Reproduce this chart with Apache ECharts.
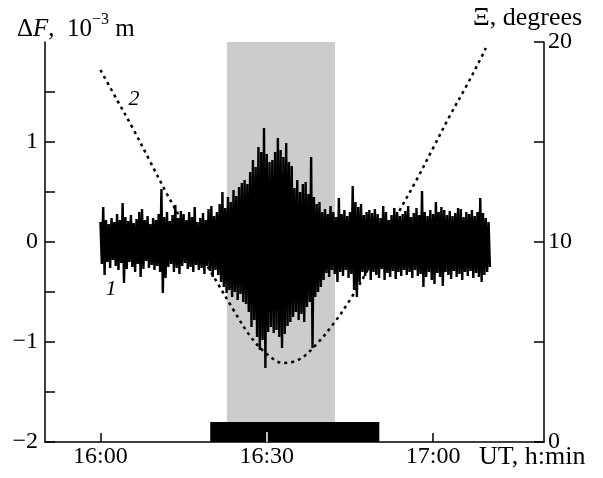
<!DOCTYPE html>
<html>
<head>
<meta charset="utf-8">
<script src="https://cdn.jsdelivr.net/npm/echarts@6/dist/echarts.min.js"></script>
<style>
html, body { margin: 0; padding: 0; background: #fff; }
#chart { width: 603px; height: 478px; }
</style>
</head>
<body>
<div id="chart"></div>
<script>
// curve 1: dF, 10^-3 m -- upper / lower swing, every 0.5 min from 16:00
var sigHigh = [
  0.20, 0.35, 0.22, 0.18, 0.24, 0.20, 0.28, 0.22, 0.39, 0.25,
  0.21, 0.27, 0.19, 0.23, 0.30, 0.33, 0.22, 0.26, 0.18, 0.24,
  0.22, 0.28, 0.53, 0.25, 0.30, 0.21, 0.27, 0.37, 0.24, 0.31,
  0.28, 0.22, 0.30, 0.25, 0.35, 0.20, 0.24, 0.29, 0.22, 0.33,
  0.36, 0.26, 0.30, 0.38, 0.50, 0.34, 0.45, 0.40, 0.52, 0.46,
  0.55, 0.59, 0.62, 0.58, 0.70, 0.82, 0.75, 0.95, 0.90, 1.14,
  0.88, 0.80, 0.82, 0.90, 1.04, 0.92, 0.85, 0.99, 0.80, 0.76,
  0.54, 0.62, 0.50, 0.58, 0.60, 0.48, 0.85, 0.45, 0.38, 0.40,
  0.30, 0.33, 0.28, 0.36, 0.30, 0.25, 0.44, 0.28, 0.32, 0.26,
  0.30, 0.56, 0.40, 0.35, 0.38, 0.27, 0.30, 0.32, 0.29, 0.33,
  0.28, 0.24, 0.36, 0.30, 0.22, 0.27, 0.34, 0.30, 0.26, 0.28,
  0.31, 0.36, 0.25, 0.29, 0.34, 0.27, 0.51, 0.30, 0.26, 0.32,
  0.28, 0.40, 0.30, 0.35, 0.32, 0.27, 0.31, 0.26, 0.29, 0.34,
  0.33, 0.25, 0.30, 0.28, 0.32, 0.26, 0.30, 0.44, 0.29, 0.24,
  0.20
];
var sigLow = [
  -0.22, -0.33, -0.20, -0.26, -0.18, -0.24, -0.28, -0.21, -0.41, -0.27,
  -0.20, -0.25, -0.30, -0.22, -0.35, -0.27, -0.19, -0.26, -0.23, -0.28,
  -0.24, -0.30, -0.51, -0.36, -0.25, -0.22, -0.30, -0.26, -0.32, -0.24,
  -0.21, -0.27, -0.25, -0.30, -0.23, -0.28, -0.26, -0.32, -0.24, -0.29,
  -0.35, -0.28, -0.33, -0.40, -0.45, -0.51, -0.48, -0.55, -0.50, -0.58,
  -0.52, -0.60, -0.62, -0.70, -0.85, -0.78, -0.95, -1.08, -0.98, -1.26,
  -0.90, -0.85, -0.91, -0.88, -0.95, -1.06, -0.92, -0.84, -0.80, -0.75,
  -0.70, -0.78, -0.72, -0.80, -0.65, -0.60, -1.06, -0.55, -0.50, -0.45,
  -0.38, -0.31, -0.35, -0.28, -0.32, -0.40, -0.30, -0.34, -0.28, -0.36,
  -0.32, -0.48, -0.55, -0.40, -0.30, -0.34, -0.28, -0.38, -0.30, -0.33,
  -0.36, -0.27, -0.38, -0.31, -0.35, -0.29, -0.37, -0.30, -0.34, -0.28,
  -0.33, -0.30, -0.36, -0.28, -0.34, -0.32, -0.45, -0.35, -0.30, -0.38,
  -0.42, -0.31, -0.35, -0.44, -0.30, -0.33, -0.37, -0.29, -0.35, -0.32,
  -0.38, -0.30, -0.34, -0.29, -0.36, -0.31, -0.35, -0.40, -0.33, -0.30,
  -0.25
];
var sigStep = 0.5;

// curve 2: Xi, degrees (minutes after 16:00)
var xiTime = [0, 3, 6, 9, 12, 15, 18, 21, 24, 27, 30, 33, 36, 39, 42, 45, 48, 51, 54, 57, 60, 63, 66, 69, 69.5];
var xiVal = [18.6, 17.1, 15.6, 14.0, 12.4, 10.9, 9.4, 8.0, 6.6, 5.3, 4.4, 3.95, 4.15, 4.9, 5.9, 7.1, 8.5, 10.0, 11.6, 13.1, 14.7, 16.3, 17.8, 19.4, 19.7];

// shaded interval and black bar (minutes after 16:00)
var grayBand = [22.8, 42.3];
var blackBar = [19.8, 50.3];

var timeTicks = [0, 30, 60];
var timeLabels = ['16:00', '16:30', '17:00'];
var dfTickVals = [-2, -1.5, -1, -0.5, 0, 0.5, 1, 1.5];
var dfLabelVals = [-2, -1, 0, 1];
var dfLabels = ['−2', '−1', '0', '1'];
var xiLabelVals = [0, 10, 20];

var FONT = 'Liberation Serif';
var axisLine = { show: true, onZero: false, lineStyle: { color: '#000', width: 1.5 } };
var tickStyle = { color: '#000', width: 1.5 };

var chart = echarts.init(document.getElementById('chart'));

var sigData = [];
for (var i = 0; i < sigHigh.length; i++) {
    sigData.push([i * sigStep, sigHigh[i]]);
    sigData.push([i * sigStep + sigStep / 2, sigLow[i]]);
}
var xiData = xiTime.map(function (t, i) { return [t, xiVal[i]]; });

chart.setOption({
    animation: false,
    textStyle: { fontFamily: FONT, color: '#000' },
    grid: { left: 45, right: 59, top: 42, bottom: 36 },
    xAxis: {
        type: 'value',
        min: -10,
        max: 80,
        axisLine: axisLine,
        axisTick: { inside: true, length: 9, customValues: timeTicks, lineStyle: tickStyle },
        axisLabel: {
            customValues: timeTicks,
            formatter: function (v) { return timeLabels[timeTicks.indexOf(v)]; },
            fontSize: 24, color: '#000', margin: 3, fontFamily: FONT
        },
        splitLine: { show: false }
    },
    yAxis: [
        {
            type: 'value', min: -2, max: 2, interval: 0.5, position: 'left',
            axisLine: axisLine,
            axisTick: { show: true, inside: true, length: 10, customValues: dfTickVals, lineStyle: tickStyle },
            axisLabel: {
                customValues: dfLabelVals,
                formatter: function (v) { return dfLabels[dfLabelVals.indexOf(v)]; },
                fontSize: 24, color: '#000', margin: 7, fontFamily: FONT
            },
            splitLine: { show: false }
        },
        {
            type: 'value', min: 0, max: 20, interval: 5, position: 'right',
            axisLine: axisLine,
            axisTick: { show: true, inside: true, length: 10, lineStyle: tickStyle },
            axisLabel: {
                customValues: xiLabelVals,
                fontSize: 24, color: '#000', margin: 4, fontFamily: FONT
            },
            splitLine: { show: false }
        }
    ],
    series: [
        {
            // shaded interval
            type: 'line', data: [], z: 0, silent: true,
            markArea: {
                silent: true,
                itemStyle: { color: '#cccccc' },
                data: [[{ xAxis: grayBand[0], yAxis: -2 }, { xAxis: grayBand[1], yAxis: 2 }]]
            }
        },
        {
            name: '1', type: 'line', data: sigData, z: 2,
            showSymbol: false, silent: true,
            lineStyle: { color: '#000', width: 2.4, join: 'miter' }
        },
        {
            name: '2', type: 'line', yAxisIndex: 1, data: xiData, z: 3,
            showSymbol: false, silent: true, smooth: 0.35,
            lineStyle: { color: '#000', width: 2.5, type: [3, 4] },
            markArea: {
                silent: true,
                itemStyle: { color: '#000' },
                data: [[{ xAxis: blackBar[0], yAxis: 0 }, { xAxis: blackBar[1], yAxis: 1 }]]
            },
            markLine: {
                silent: true, symbol: 'none', label: { show: false },
                lineStyle: { color: '#fff', width: 1.5, type: 'solid' },
                data: [[{ coord: [timeTicks[1], 0] }, { coord: [timeTicks[1], 0.5] }]]
            }
        }
    ],
    graphic: [
        {
            type: 'text', x: 17, y: 27,
            style: {
                text: '{a|Δ}{f|F}{a|,  10}{s|−3}{a| m}',
                verticalAlign: 'middle',
                rich: {
                    a: { fontSize: 25, fontFamily: FONT, lineHeight: 30, verticalAlign: 'bottom', fill: '#000' },
                    f: { fontSize: 25, fontFamily: FONT, fontStyle: 'italic', lineHeight: 30, verticalAlign: 'bottom', fill: '#000' },
                    s: { fontSize: 16, fontFamily: FONT, lineHeight: 20, verticalAlign: 'top', fill: '#000' }
                }
            }
        },
        {
            type: 'text', x: 473, y: 18,
            style: { text: 'Ξ, degrees', fontSize: 26, fontFamily: FONT, fill: '#000', verticalAlign: 'middle' }
        },
        {
            type: 'text', x: 479, y: 457,
            style: { text: 'UT, h:min', fontSize: 26, fontFamily: FONT, fill: '#000', verticalAlign: 'middle' }
        },
        {
            type: 'text', x: 134, y: 99,
            style: { text: '2', fontSize: 22, fontFamily: FONT, fontStyle: 'italic', fill: '#000', align: 'center', verticalAlign: 'middle' }
        },
        {
            type: 'text', x: 111, y: 289,
            style: { text: '1', fontSize: 22, fontFamily: FONT, fontStyle: 'italic', fill: '#000', align: 'center', verticalAlign: 'middle' }
        }
    ]
});
</script>
</body>
</html>
